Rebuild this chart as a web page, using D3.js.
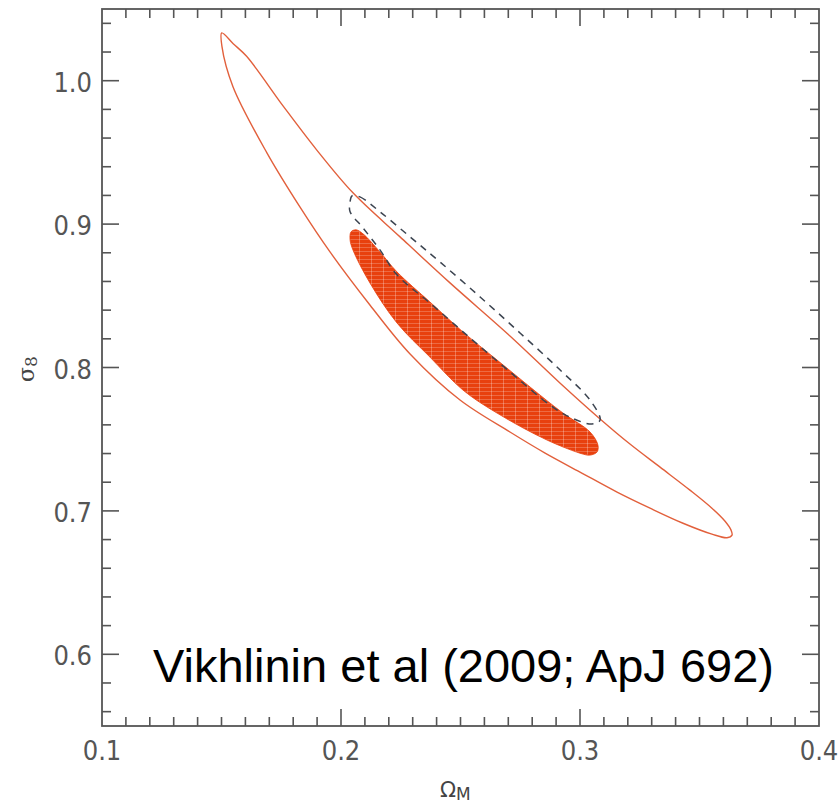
<!DOCTYPE html>
<html>
<head>
<meta charset="utf-8">
<script src="https://d3js.org/d3.v7.min.js"></script>
<style>
    body { margin: 0; background: #fff; }
    svg { display: block; }
</style>
</head>
<body>
<div id="div-chart"></div>
<script>
// outer (95%) contour, [Omega_M, sigma_8]
var outerContour = [
    [0.1501, 1.0333], [0.1549, 1.0258], [0.1605, 1.0170], [0.1759, 0.9821],
    [0.1898, 0.9518], [0.2050, 0.9218], [0.2247, 0.8911], [0.2456, 0.8590],
    [0.2707, 0.8220], [0.2916, 0.7892], [0.3084, 0.7641], [0.3209, 0.7466],
    [0.3335, 0.7305], [0.3460, 0.7145], [0.3552, 0.7019], [0.3607, 0.6928],
    [0.3632, 0.6866], [0.3636, 0.6831], [0.3615, 0.6813], [0.3552, 0.6838],
    [0.3431, 0.6914], [0.3293, 0.7019], [0.3155, 0.7131], [0.3000, 0.7271],
    [0.2854, 0.7403], [0.2707, 0.7550], [0.2498, 0.7773], [0.2289, 0.8094],
    [0.2121, 0.8436], [0.1954, 0.8806], [0.1828, 0.9120], [0.1690, 0.9497],
    [0.1548, 0.9958], [0.1502, 1.0237]
]

// filled inner contour
var innerContour = [
    [0.2042, 0.8946], [0.2063, 0.8960], [0.2092, 0.8932], [0.2163, 0.8806],
    [0.2234, 0.8667], [0.2372, 0.8457], [0.2510, 0.8248], [0.2653, 0.8052],
    [0.2791, 0.7864], [0.2929, 0.7682], [0.3042, 0.7550], [0.3075, 0.7459],
    [0.3071, 0.7410], [0.3042, 0.7389], [0.3013, 0.7396], [0.2862, 0.7494],
    [0.2653, 0.7682], [0.2510, 0.7843], [0.2372, 0.8073], [0.2234, 0.8311],
    [0.2121, 0.8590], [0.2050, 0.8820], [0.2038, 0.8890]
]

// dashed contour
var dashedContour = [
    [0.2046, 0.9197], [0.2079, 0.9190], [0.2163, 0.9086], [0.2289, 0.8911],
    [0.2414, 0.8736], [0.2582, 0.8492], [0.2749, 0.8241], [0.2916, 0.7984],
    [0.3042, 0.7773], [0.3084, 0.7634], [0.3050, 0.7606], [0.2958, 0.7654],
    [0.2874, 0.7738], [0.2707, 0.7969], [0.2540, 0.8206], [0.2372, 0.8450],
    [0.2234, 0.8646], [0.2163, 0.8820], [0.2092, 0.8974], [0.2038, 0.9086],
    [0.2038, 0.9155]
]

var xTickLabels = ["0.1", "0.2", "0.3", "0.4"]
var yTickLabels = ["0.6", "0.7", "0.8", "0.9", "1.0"]
var citation = "Vikhlinin et al (2009; ApJ 692)"

drawContours()

function drawContours() {
    var width = 838;
    var height = 806;
    var margin = ({ top: 9, right: 19, bottom: 80, left: 102 })

    var svg = d3.select('#div-chart')
        .append('svg')
        .attr("width", width)
        .attr("height", height)

    var xscale = d3.scaleLinear()
        .domain([0.1, 0.4])
        .range([margin.left, width - margin.right]);

    var yscale = d3.scaleLinear()
        .domain([0.55, 1.05])
        .range([height - margin.bottom, margin.top]);

    // hatch pattern for the filled region
    var defs = svg.append("defs")
    var pat = defs.append("pattern")
        .attr("id", "hatch")
        .attr("patternUnits", "userSpaceOnUse")
        .attr("width", 12)
        .attr("height", 4)
    pat.append("rect").attr("width", 12).attr("height", 4).attr("fill", "#e8400e")
    pat.append("line").attr("x1", 0).attr("x2", 12).attr("y1", 3.5).attr("y2", 3.5)
        .attr("stroke", "#ffffff").attr("stroke-opacity", 0.28).attr("stroke-width", 0.8)
    pat.append("line").attr("x1", 11.5).attr("x2", 11.5).attr("y1", 0).attr("y2", 4)
        .attr("stroke", "#ffffff").attr("stroke-opacity", 0.35).attr("stroke-width", 0.8)

    var line = d3.line()
        .x(d => xscale(d[0]))
        .y(d => yscale(d[1]))
        .curve(d3.curveCatmullRomClosed.alpha(0.5))

    svg.append("path")
        .datum(innerContour)
        .attr("d", line)
        .attr("fill", "url(#hatch)")
        .attr("stroke", "#e8400e")
        .attr("stroke-width", 0.8)

    svg.append("path")
        .datum(outerContour)
        .attr("d", line)
        .attr("fill", "none")
        .attr("stroke", "#e2603c")
        .attr("stroke-width", 1.4)

    svg.append("path")
        .datum(dashedContour)
        .attr("d", line)
        .attr("fill", "none")
        .attr("stroke", "#3c4450")
        .attr("stroke-width", 1.5)
        .attr("stroke-dasharray", "7,6")

    // axes: ticks drawn inward on all four sides
    var axisColor = "#555"
    var major = 17, minor = 9
    var g = svg.append("g").attr("class", "axes")

    var xMinor = d3.range(11, 40).map(d => d / 100)
    var yMinor = d3.range(28, 53).map(d => d / 50)

    xMinor.forEach(function(v) {
        var isMajor = Math.abs(v * 10 - Math.round(v * 10)) < 1e-6
        var len = isMajor ? major : minor
        var x = xscale(v)
        g.append("line").attr("x1", x).attr("x2", x)
            .attr("y1", yscale(0.55)).attr("y2", yscale(0.55) - len)
        g.append("line").attr("x1", x).attr("x2", x)
            .attr("y1", yscale(1.05)).attr("y2", yscale(1.05) + len)
    })

    yMinor.forEach(function(v) {
        var isMajor = Math.abs(v * 10 - Math.round(v * 10)) < 1e-6
        var len = isMajor ? major : minor
        var y = yscale(v)
        g.append("line").attr("y1", y).attr("y2", y)
            .attr("x1", xscale(0.1)).attr("x2", xscale(0.1) + len)
        g.append("line").attr("y1", y).attr("y2", y)
            .attr("x1", xscale(0.4)).attr("x2", xscale(0.4) - len)
    })

    g.selectAll("line")
        .attr("stroke", axisColor)
        .attr("stroke-width", 1.6)

    g.append("rect")
        .attr("x", xscale(0.1))
        .attr("y", yscale(1.05))
        .attr("width", xscale(0.4) - xscale(0.1))
        .attr("height", yscale(0.55) - yscale(1.05))
        .attr("fill", "none")
        .attr("stroke", axisColor)
        .attr("stroke-width", 1.8)

    var tickFont = "'Liberation Sans Narrow', 'DejaVu Sans Condensed', sans-serif"

    svg.selectAll(".xlab")
        .data(xTickLabels)
        .enter()
        .append("text")
        .attr("class", "xlab")
        .attr("x", d => xscale(+d))
        .attr("y", 760)
        .attr("text-anchor", "middle")
        .style("font-family", tickFont)
        .style("font-size", "27px")
        .attr("fill", "#555")
        .text(d => d)

    svg.selectAll(".ylab")
        .data(yTickLabels)
        .enter()
        .append("text")
        .attr("class", "ylab")
        .attr("x", 92)
        .attr("y", d => yscale(+d) + 11)
        .attr("text-anchor", "end")
        .style("font-family", tickFont)
        .style("font-size", "27px")
        .attr("fill", "#555")
        .text(d => d)

    // axis titles
    var xt = svg.append("text")
        .attr("x", 440)
        .attr("y", 797)
        .style("font-family", "'DejaVu Sans', sans-serif")
        .style("font-size", "21px")
        .attr("fill", "#444")
    xt.append("tspan").text("Ω")
    xt.append("tspan").attr("dy", 3).style("font-size", "17px").text("M")

    var yt = svg.append("text")
        .attr("transform", "translate(34,382) rotate(-90)")
        .style("font-family", "'DejaVu Serif', serif")
        .style("font-size", "22px")
        .attr("fill", "#444")
    yt.append("tspan").text("σ")
    yt.append("tspan").attr("dy", 3).style("font-size", "17px").text("8")

    svg.append("text")
        .attr("x", 153)
        .attr("y", 682)
        .style("font-family", "'Liberation Sans', Arial, sans-serif")
        .style("font-size", "47px")
        .attr("fill", "#000")
        .text(citation)
}
</script>
</body>
</html>
